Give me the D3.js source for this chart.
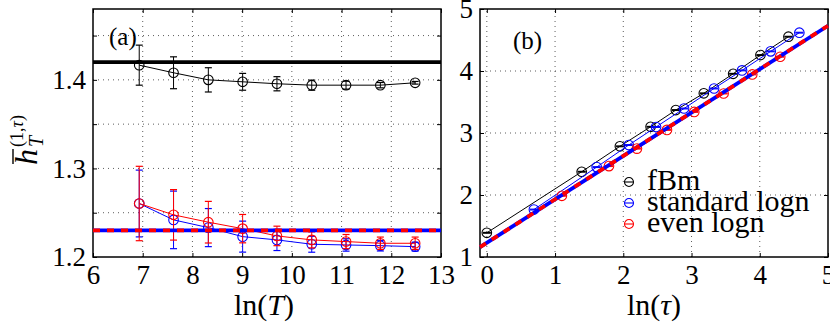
<!DOCTYPE html>
<html>
<head>
<meta charset="utf-8">
<script src="https://cdn.jsdelivr.net/npm/d3@7"></script>
<style>
  body { margin: 0; background: white; }
</style>
</head>
<body>
<script>
// panel (a): h vs ln(T)
const lnT = [6.93, 7.62, 8.32, 9.01, 9.70, 10.40, 11.09, 11.78, 12.48];
const fbmH = [1.4166, 1.408, 1.400, 1.3978, 1.3956, 1.394, 1.394, 1.394, 1.3967];
const fbmErr = [0.0226, 0.018, 0.0137, 0.0095, 0.008, 0.0057, 0.0045, 0.003, 0.0015];
const stdH = [1.2604, 1.2419, 1.2332, 1.223, 1.2193, 1.2144, 1.2136, 1.2128, 1.2117];
const stdErr = [0.0377, 0.0325, 0.0215, 0.0175, 0.012, 0.009, 0.007, 0.006, 0.005];
const evenH = [1.2604, 1.2476, 1.2393, 1.232, 1.2238, 1.2193, 1.2174, 1.2155, 1.2155];
const evenErr = [0.042, 0.0285, 0.0235, 0.016, 0.011, 0.009, 0.008, 0.007, 0.007];
const fbmLevel = 1.42;
const lognLevel = 1.23;

// panel (b): h vs ln(tau)
const fbmTau = [0, 1.39, 1.95, 2.40, 2.77, 3.18, 3.61, 4.01, 4.42];
const fbmTauH = [1.39, 2.375, 2.785, 3.10, 3.37, 3.64, 3.955, 4.257, 4.553];
const stdTau = [0.69, 1.61, 2.08, 2.48, 2.89, 3.33, 3.74, 4.16, 4.58];
const stdTauH = [1.765, 2.45, 2.806, 3.097, 3.395, 3.718, 4.01, 4.317, 4.618];
const evenTau = [1.10, 1.79, 2.20, 2.64, 3.04, 3.47, 3.89, 4.30];
const evenTauH = [1.987, 2.466, 2.748, 3.05, 3.34, 3.637, 3.945, 4.23];
const tauErr = 0.006;
const fitSlope = 0.70;
const fitRange = [-0.1, 5];

// ticks
const xTicksA = [6, 7, 8, 9, 10, 11, 12, 13];
const yTicksA = [1.2, 1.25, 1.3, 1.35, 1.4, 1.45];
const xTicksB = [0, 1, 2, 3, 4, 5];
const yTicksB = [1, 2, 3, 4, 5];
const legendNames = ["fBm", "standard logn", "even logn"];
const legendColors = ["black", "blue", "red"];

const width = 830;
const height = 324;
const serifFont = "Liberation Serif";

let svg = d3.select("body").append("svg")
  .attr("width", width)
  .attr("height", height);

// scales
let xA = d3.scaleLinear().domain([6, 13]).range([93, 441]);
let yA = d3.scaleLinear().domain([1.2, 1.48]).range([257, 9]);
let xB = d3.scaleLinear().domain([-0.1, 5]).range([480, 828]);
let yB = d3.scaleLinear().domain([1, 5]).range([257, 9]);

// draws grid, ticks and frame of one panel
function frame(x, y, xt, yt, yFmt) {
  let g = svg.append("g");
  let x0 = x.range()[0], x1 = x.range()[1];
  let y0 = y.range()[0], y1 = y.range()[1];

  // dotted grid
  g.selectAll(".vg").data(xt.filter(d => x(d) > x0 + 1 && x(d) < x1 - 1)).join("line")
    .attr("x1", d => x(d)).attr("x2", d => x(d))
    .attr("y1", y0).attr("y2", y1)
    .attr("stroke", "#333").attr("stroke-width", 0.8)
    .attr("stroke-dasharray", "1,4");
  g.selectAll(".hg").data(yt.filter(d => y(d) < y0 - 1 && y(d) > y1 + 1)).join("line")
    .attr("x1", x0).attr("x2", x1)
    .attr("y1", d => y(d)).attr("y2", d => y(d))
    .attr("stroke", "#333").attr("stroke-width", 0.8)
    .attr("stroke-dasharray", "1,4");

  // inward ticks on all four sides
  g.append("g").attr("transform", `translate(0,${y0})`)
    .call(d3.axisBottom(x).tickValues(xt).tickSize(-4).tickPadding(8).tickFormat(d3.format("d")))
    .call(a => a.select(".domain").remove());
  g.append("g").attr("transform", `translate(0,${y1})`)
    .call(d3.axisTop(x).tickValues(xt).tickSize(-4).tickFormat(""))
    .call(a => a.select(".domain").remove());
  g.append("g").attr("transform", `translate(${x0},0)`)
    .call(d3.axisLeft(y).tickValues(yt).tickSize(-4).tickPadding(7).tickFormat(yFmt))
    .call(a => a.select(".domain").remove());
  g.append("g").attr("transform", `translate(${x1},0)`)
    .call(d3.axisRight(y).tickValues(yt).tickSize(-4).tickFormat(""))
    .call(a => a.select(".domain").remove());
  g.selectAll(".tick line").attr("stroke", "black");
  g.selectAll(".tick text").attr("font-size", 27).attr("fill", "black");

  g.append("rect")
    .attr("x", x0).attr("y", y1)
    .attr("width", x1 - x0).attr("height", y0 - y1)
    .attr("fill", "none").attr("stroke", "black").attr("stroke-width", 1.5);
}

// draws a connected series with error bars and open circles
function series(x, y, xs, ys, es, color, cap) {
  let pts = xs.map((d, i) => [d, ys[i], es[i]]);
  let g = svg.append("g");
  g.append("path")
    .attr("d", d3.line().x(d => x(d[0])).y(d => y(d[1]))(pts))
    .attr("fill", "none").attr("stroke", color).attr("stroke-width", 1);
  g.selectAll(".eb").data(pts).join("line")
    .attr("x1", d => x(d[0])).attr("x2", d => x(d[0]))
    .attr("y1", d => y(d[1] - d[2])).attr("y2", d => y(d[1] + d[2]))
    .attr("stroke", color).attr("stroke-width", 1);
  [-1, 1].forEach(s => {
    g.selectAll(".cap" + s).data(pts).join("line")
      .attr("x1", d => x(d[0]) - cap).attr("x2", d => x(d[0]) + cap)
      .attr("y1", d => y(d[1] + s * d[2])).attr("y2", d => y(d[1] + s * d[2]))
      .attr("stroke", color).attr("stroke-width", 1.2);
  });
  g.selectAll("circle").data(pts).join("circle")
    .attr("cx", d => x(d[0])).attr("cy", d => y(d[1]))
    .attr("r", 4.8)
    .attr("fill", "none").attr("stroke", color).attr("stroke-width", 1.1);
}

// red/blue dashed reference line
function dashed(p1, p2) {
  ["blue", "red"].forEach(c => {
    svg.append("line")
      .attr("x1", p1[0]).attr("y1", p1[1])
      .attr("x2", p2[0]).attr("y2", p2[1])
      .attr("stroke", c).attr("stroke-width", 3.8)
      .attr("stroke-dasharray", c === "red" ? "7,7" : null);
  });
}

// panel (a)
frame(xA, yA, xTicksA, yTicksA, d => (Math.round(d * 100) % 10 === 0 ? d3.format(".1f")(d) : ""));
svg.append("line")
  .attr("x1", xA(6)).attr("x2", xA(13))
  .attr("y1", yA(fbmLevel)).attr("y2", yA(fbmLevel))
  .attr("stroke", "black").attr("stroke-width", 3.8);
series(xA, yA, lnT, fbmH, fbmErr, "black", 3.5);
series(xA, yA, lnT, stdH, stdErr, "blue", 3.5);
series(xA, yA, lnT, evenH, evenErr, "red", 3.5);
dashed([xA(6), yA(lognLevel)], [xA(13), yA(lognLevel)]);

svg.append("text").attr("x", 109).attr("y", 45).attr("font-size", 25).text("(a)");

// panel (b)
frame(xB, yB, xTicksB, yTicksB, d3.format("d"));
series(xB, yB, fbmTau, fbmTauH, fbmTau.map(() => tauErr), "black", 4);
series(xB, yB, stdTau, stdTauH, stdTau.map(() => tauErr), "blue", 4);
series(xB, yB, evenTau, evenTauH, evenTau.map(() => tauErr), "red", 4);
dashed([xB(fitRange[0]), yB(lognLevel + fitSlope * fitRange[0])],
       [xB(fitRange[1]), yB(lognLevel + fitSlope * fitRange[1])]);

svg.append("text").attr("x", 513).attr("y", 49).attr("font-size", 25).text("(b)");

// legend
let leg = svg.append("g").selectAll("g").data(legendNames).join("g")
  .attr("transform", (d, i) => `translate(629,${182 + i * 21})`);
leg.append("circle").attr("r", 4.5)
  .attr("fill", "none").attr("stroke", (d, i) => legendColors[i]).attr("stroke-width", 1.1);
leg.append("line").attr("x1", -4).attr("x2", 4)
  .attr("stroke", (d, i) => legendColors[i]).attr("stroke-width", 1.1);
leg.append("text").attr("x", 18).attr("y", 8).attr("font-size", 30).text(d => d);

// axis labels
let lab = svg.append("text").attr("x", 264).attr("y", 315).attr("font-size", 30)
  .attr("text-anchor", "middle");
lab.append("tspan").text("ln(");
lab.append("tspan").attr("font-style", "italic").text("T");
lab.append("tspan").text(")");

let labB = svg.append("text").attr("x", 654).attr("y", 315).attr("font-size", 30)
  .attr("text-anchor", "middle");
labB.append("tspan").text("ln(");
labB.append("tspan").attr("font-style", "italic").text("τ");
labB.append("tspan").text(")");

// y label: h bar with sub T and sup (1,tau)
let yl = svg.append("g").attr("transform", "translate(37,136) rotate(-90)");
yl.append("text").attr("x", -29).attr("y", 0).attr("font-size", 32)
  .attr("font-style", "italic").text("h");
yl.append("line").attr("x1", -28).attr("x2", -13).attr("y1", -24).attr("y2", -24)
  .attr("stroke", "black").attr("stroke-width", 1.4);
yl.append("text").attr("x", -11).attr("y", 6).attr("font-size", 20)
  .attr("font-style", "italic").text("T");
let sup = yl.append("text").attr("x", -11).attr("y", -14).attr("font-size", 18);
sup.append("tspan").text("(1,");
sup.append("tspan").attr("font-style", "italic").text("τ");
sup.append("tspan").text(")");

// serif font set on every text node directly
svg.selectAll("text, tspan").attr("font-family", serifFont);
</script>
</body>
</html>
